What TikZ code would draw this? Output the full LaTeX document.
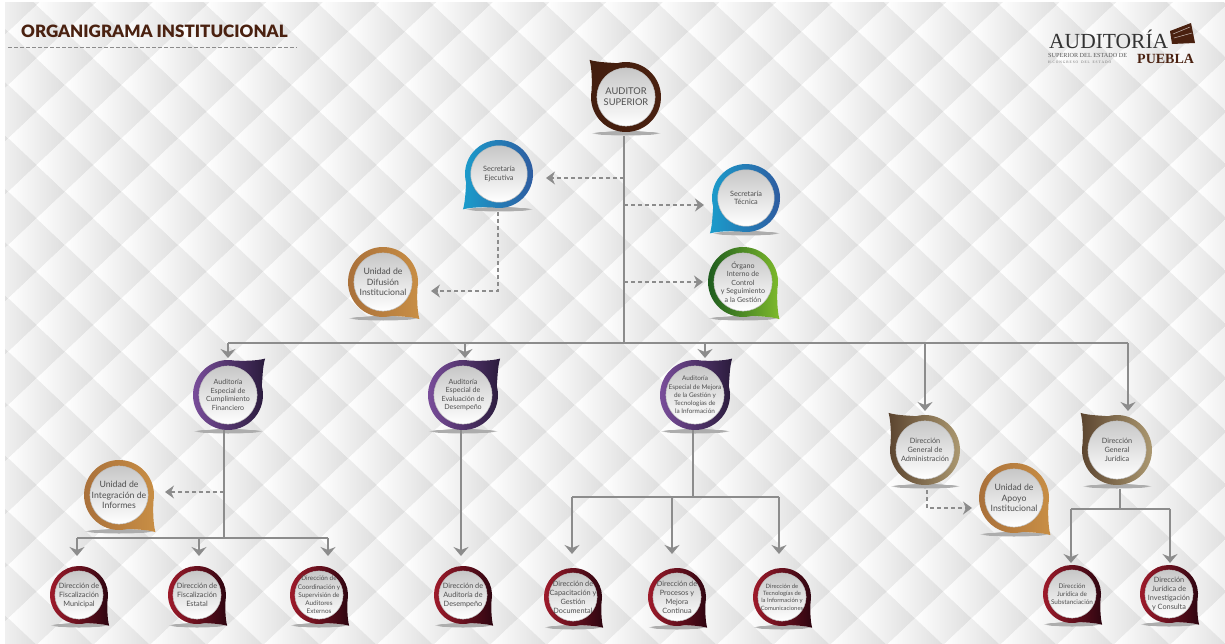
\documentclass[tikz,border=0pt]{standalone}
\usepackage{fontspec}
\setmainfont{Lato}
\newfontfamily\titulofont{Lato Black}
\newfontfamily\logofont{Liberation Serif}
\usetikzlibrary{arrows.meta,fadings}

\definecolor{gris}{HTML}{8C8C8C}
\definecolor{marron}{HTML}{4A2110}
\definecolor{letra}{HTML}{4F4F4F}
\definecolor{azulA}{HTML}{1B9CCB}
\definecolor{azulB}{HTML}{2F5A9F}
\definecolor{naranjaA}{HTML}{A9703A}
\definecolor{naranjaB}{HTML}{C98F45}
\definecolor{verdeA}{HTML}{1C5A1E}
\definecolor{verdeB}{HTML}{80BC2C}
\definecolor{moradoA}{HTML}{7C4F9E}
\definecolor{moradoB}{HTML}{2A1B3C}
\definecolor{tierraA}{HTML}{5A432E}
\definecolor{tierraB}{HTML}{AD9A72}
\definecolor{vinoA}{HTML}{A01B2B}
\definecolor{vinoB}{HTML}{2B0510}

\tikzset{
  x=1pt, y=-1pt,
  acolchado/.style={left color=white, middle color=black!3, right color=black!13},
  tronco/.style={draw=gris, line width=1.5pt},
  linea/.style={tronco, -{Stealth[length=9pt,width=15pt,inset=3pt]}},
  rama/.style={draw=gris, line width=1.2pt, dash pattern=on 4pt off 3pt, -{Stealth[length=9pt,width=13pt,inset=3pt]}},
  centro/.style={circle, inner sep=-14pt, align=center, text=letra, top color=black!22, bottom color=white, draw=black!25, line width=0.5pt},
  cafe/.style={left color=marron!90!black, right color=marron},
  azul/.style={left color=azulA, right color=azulB},
  naranja/.style={left color=naranjaA, right color=naranjaB},
  verde/.style={left color=verdeA, right color=verdeB},
  morado/.style={left color=moradoA, right color=moradoB},
  tierra/.style={left color=tierraA, right color=tierraB},
  vino/.style={left color=vinoA, right color=vinoB},
  tA/.style={font=\fontsize{9.3}{11}\selectfont},
  tB/.style={font=\fontsize{7.3}{8.6}\selectfont},
  tC/.style={font=\fontsize{7.1}{8.6}\selectfont},
  tD/.style={font=\fontsize{8.7}{10.2}\selectfont},
  tE/.style={font=\fontsize{6.4}{8.2}\selectfont},
  tF/.style={font=\fontsize{7.3}{9}\selectfont},
  tG/.style={font=\fontsize{5.9}{7.4}\selectfont},
}

% [text style]{x,y}{outer radius}{tail rotation}{ring colour}{name}{text}
\newcommand{\Burbuja}[7][tB]{
  \pgfmathsetmacro{\rIn}{0.83*#3}
  \pgfmathsetmacro{\rGap}{#3-\rIn}
  \begin{scope}[shift={(#2)}]
    \fill[black!32, path fading=circle with fuzzy edge 15 percent] (0,#3+1) ellipse [x radius=#3, y radius=2.5];
  \end{scope}
  \begin{scope}[shift={(#2)}, rotate=#4, x=#3pt, y=#3pt]
    \shade[#5] (-10:1) arc[start angle=-10, end angle=285, radius=1]
      .. controls (0.55,-0.99) and (0.8,-0.99) .. (1.04,-1.06)
      .. controls (0.97,-0.8) and (0.97,-0.4) .. cycle;
  \end{scope}
  \node[centro, #1, minimum size=2*\rIn pt, outer sep=\rGap pt] (#6) at (#2) {#7};
}

\begin{document}
\begin{tikzpicture}

\useasboundingbox (0,0) rectangle (1225,644);

% Background
\begin{scope}
\clip (5,3) rectangle (1225,644);
\foreach \i in {-15,...,8}{
  \foreach \j in {-3,...,10}{
    \shade[acolchado] (801.7+56.67*\i-28.33,111.7+53.33*\j) -- ++(28.33,-26.67) -- ++(28.33,26.67) -- ++(-28.33,26.67) -- cycle;
    \shade[acolchado] (801.7+56.67*\i,111.7+53.33*\j+26.67) -- ++(28.33,-26.67) -- ++(28.33,26.67) -- ++(-28.33,26.67) -- cycle;
  }
}
\end{scope}

% Header
\node[anchor=west, inner sep=0pt, text=marron, font=\titulofont\fontsize{17}{18}\selectfont] (titulo) at (21,31) {ORGANIGRAMA INSTITUCIONAL};
\coordinate (rayaA) at (8,47);
\coordinate (rayaB) at (297,47);
\draw[gris, line width=0.9pt, dash pattern=on 3.5pt off 2.5pt] (rayaA) -- (rayaB);

% Logo
\node[anchor=base west, inner sep=0pt, text=black!80, font=\logofont\fontsize{21.5}{22}\selectfont] (logoA) at (1049,49) {AUDITORÍA};
\node[anchor=base west, inner sep=0pt, text=black!65, font=\logofont\fontsize{6.2}{7}\selectfont] (logoB) at (1048,57.5) {SUPERIOR DEL ESTADO DE};
\node[anchor=base west, inner sep=0pt, text=marron, font=\logofont\fontsize{14}{15}\selectfont\bfseries] (logoC) at (1137,63.5) {PUEBLA};
\node[anchor=base west, inner sep=0pt, text=black!55, font=\logofont\fontsize{3.6}{4}\selectfont] (logoD) at (1048,64) {H. C O N G R E S O \ \ D E L \ \ E S T A D O};
\fill[marron] (1170,31) -- (1191,23) -- (1195,43) -- (1172,44) -- cycle;
\draw[white!70!marron, line width=0.5pt] (1173,34) -- (1190,27);
\draw[white!70!marron, line width=0.5pt] (1174,38) -- (1192,33);

% Row 1
\Burbuja[tA]{626,97}{35}{180}{cafe}{AS}{AUDITOR\\SUPERIOR}
\Burbuja{499,174}{34}{270}{azul}{SE}{Secretaría\\Ejecutiva}
\Burbuja{746,198}{34}{270}{azul}{ST}{Secretaría\\Técnica}
\Burbuja[tD]{383,282}{35}{0}{naranja}{UD}{Unidad de\\Difusión\\Institucional}
\Burbuja[tC]{743,282}{35}{0}{verde}{OI}{Órgano\\Interno de\\Control\\y Seguimiento\\a la Gestión}

% Row 2
\Burbuja[tC]{228,395}{35}{90}{morado}{AC}{Auditoría\\Especial de\\Cumplimiento\\Financiero}
\Burbuja[tC]{463,395}{35}{90}{morado}{AE}{Auditoría\\Especial de\\Evaluación de\\Desempeño}
\Burbuja[tE]{695,395}{35}{90}{morado}{AM}{Auditoría\\Especial de Mejora\\de la Gestión y\\Tecnologías de\\la Información}
\Burbuja[tF]{925,450}{35}{180}{tierra}{DA}{Dirección\\General de\\Administración}
\Burbuja[tF]{1117,450}{35}{180}{tierra}{DJ}{Dirección\\General\\Jurídica}
\Burbuja[tD]{119,495}{35}{0}{naranja}{UI}{Unidad de\\Integración de\\Informes}
\Burbuja[tD]{1014,498}{35}{0}{naranja}{UA}{Unidad de\\Apoyo\\Institucional}

% Row 3
\Burbuja[tF]{79,595}{29}{0}{vino}{DM}{Dirección de\\Fiscalización\\Municipal}
\Burbuja[tF]{197,595}{29}{0}{vino}{DE}{Dirección de\\Fiscalización\\Estatal}
\Burbuja[tE]{319,595}{29}{0}{vino}{DC}{Dirección de\\Coordinación y\\Supervisión de\\Auditores\\Externos}
\Burbuja[tF]{463,595}{29}{0}{vino}{DD}{Dirección de\\Auditoría de\\Desempeño}
\Burbuja[tF]{573,597}{29}{0}{vino}{DG}{Dirección de\\Capacitación y\\Gestión\\Documental}
\Burbuja[tF]{677,597}{29}{0}{vino}{DP}{Dirección de\\Procesos y\\Mejora\\Continua}
\Burbuja[tG]{782,597}{29}{0}{vino}{DT}{Dirección de\\Tecnologías de\\la Información y\\Comunicaciones}
\Burbuja[tE]{1072,594}{29}{0}{vino}{DS}{Dirección\\Jurídica de\\Substanciación}
\Burbuja[tF]{1169,594}{29}{0}{vino}{DI}{Dirección\\Jurídica de\\Investigación\\y Consulta}

% Junctions
\coordinate (bus) at (624,343);
\coordinate (busA) at (228,343);
\coordinate (busB) at (465,343);
\coordinate (busC) at (705,343);
\coordinate (busD) at (925,343);
\coordinate (busE) at (1128,343);
\coordinate (tSE) at (624,178);
\coordinate (tST) at (624,205);
\coordinate (tOI) at (624,282);
\coordinate (cA) at (224,538);
\coordinate (cB) at (77,538);
\coordinate (cC) at (199,538);
\coordinate (cD) at (328,538);
\coordinate (tUI) at (224,492);
\coordinate (mA) at (693,497);
\coordinate (mB) at (572,497);
\coordinate (mC) at (672,497);
\coordinate (mD) at (779,497);
\coordinate (jA) at (1120,509);
\coordinate (jB) at (1071,509);
\coordinate (jC) at (1170,509);

% Solid connectors
\draw[tronco, shorten <=4pt] ([xshift=-2pt]AS.south) -- (bus);
\draw[tronco] (busA) -- (busE);
\draw[linea, shorten >=2pt] (busA) -- (busA |- AC.north);
\draw[linea, shorten >=2pt] (busB) -- (busB |- AE.north);
\draw[linea, shorten >=2pt] (busC) -- (busC |- AM.north);
\draw[linea, shorten >=4pt] (busD) -- (busD |- DA.north);
\draw[linea, shorten >=4pt] (busE) -- (busE |- DJ.north);

\draw[tronco] ([xshift=-4pt]AC.south) -- (cA);
\draw[tronco] (cB) -- (cD);
\draw[linea, shorten >=10pt] (cB) -- (cB |- DM.north);
\draw[linea, shorten >=10pt] (cC) -- (cC |- DE.north);
\draw[linea, shorten >=10pt] (cD) -- (cD |- DC.north);
\draw[linea, shorten >=10pt] ([xshift=-2pt]AE.south) -- ([xshift=-2pt]DD.north);

\draw[tronco] ([xshift=-2pt]AM.south) -- (mA);
\draw[tronco] (mB) -- (mD);
\draw[linea, shorten >=14pt] (mB) -- (mB |- DG.north);
\draw[linea, shorten >=14pt] (mC) -- (mC |- DP.north);
\draw[linea, shorten >=14pt] (mD) -- (mD |- DT.north);

\draw[tronco, shorten <=4pt] ([xshift=3pt]DJ.south) -- (jA);
\draw[tronco] (jB) -- (jC);
\draw[linea, shorten >=2pt] (jB) -- (jB |- DS.north);
\draw[linea, shorten >=2pt] (jC) -- (jC |- DI.north);

% Dashed connectors
\draw[rama, shorten >=13pt] (tSE) -- (tSE -| SE.east);
\draw[rama, shorten >=8pt] (tST) -- (tST -| ST.west);
\draw[rama, shorten >=5pt] (tOI) -- (tOI -| OI.west);
\draw[rama, shorten <=4pt, shorten >=13pt] ([xshift=-1pt]SE.south) |- ([yshift=-9pt]UD.east);
\draw[rama, shorten >=11pt] (tUI) -- (tUI -| UI.east);
\draw[rama, shorten <=5pt, shorten >=7pt] ([xshift=2pt]DA.south) |- ([yshift=-10pt]UA.west);

\end{tikzpicture}
\end{document}
